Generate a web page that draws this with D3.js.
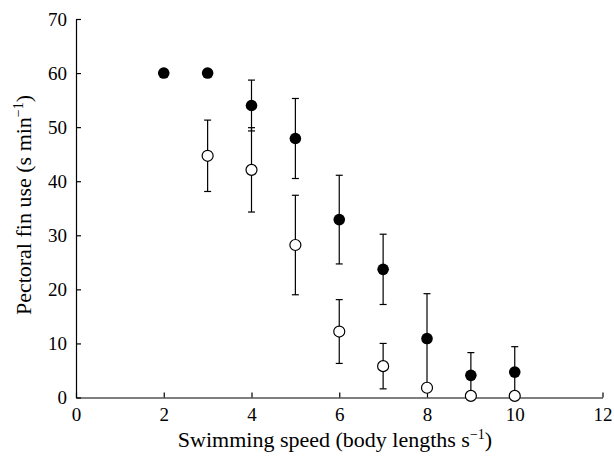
<!DOCTYPE html>
<html>
<head>
<meta charset="utf-8">
<script src="https://cdn.jsdelivr.net/npm/d3@7"></script>
<style>
  body { margin: 0; background: #fff; }
  svg text { font-family: "Liberation Serif", "DejaVu Serif", serif; fill: #000; }
</style>
</head>
<body>
<svg id="chart" width="614" height="457"></svg>
<script>
// Swimming speed (body lengths per second)
const speeds = [2, 3, 4, 5, 6, 7, 8, 9, 10];

// Filled circles: mean and standard error (null = no bar)
const filledMean = [60, 60, 54.0, 47.9, 32.9, 23.7, 10.9, 4.1, 4.7];
const filledErr = [null, null, 4.7, 7.4, 8.2, 6.5, 8.3, 4.2, 4.7];

// Open circles (no value at 2)
const openMean = [null, 44.7, 42.1, 28.2, 12.2, 5.8, 1.8, 0.3, 0.3];
const openErr = [null, 6.6, 7.8, 9.2, 5.9, 4.2, 0.0, 0, 0];

const xTicks = [0, 2, 4, 6, 8, 10, 12];
const yTicks = [0, 10, 20, 30, 40, 50, 60, 70];

const svg = d3.select('#chart');

const plotLeft = 76, plotRight = 602.5, plotTop = 19, plotBottom = 397.5;
const serif = '"Liberation Serif", "DejaVu Serif", serif';

const x = d3.scaleLinear().domain([0, 12]).range([plotLeft, plotRight]);
const y = d3.scaleLinear().domain([0, 70]).range([plotBottom, plotTop]);

// Axes, ticks pointing inward
const xAxis = d3.axisBottom(x).tickValues(xTicks).tickSizeInner(-5).tickSizeOuter(0).tickPadding(10);
const yAxis = d3.axisLeft(y).tickValues(yTicks).tickSizeInner(-5).tickSizeOuter(0).tickPadding(9);

const gx = svg.append('g').attr('transform', `translate(0,${plotBottom})`).call(xAxis);
const gy = svg.append('g').attr('transform', `translate(${plotLeft},0)`).call(yAxis);

[gx, gy].forEach(g => {
    g.attr('font-family', null).attr('font-size', null);
    g.select('.domain').attr('stroke', '#000').attr('stroke-width', 1.2);
    g.selectAll('.tick line').attr('stroke', '#000').attr('stroke-width', 1.2);
    g.selectAll('.tick text')
        .style('font-family', serif)
        .style('font-size', '19px')
        .attr('fill', '#000');
});

// Axis titles
const xTitle = svg.append('text')
    .attr('x', 335)
    .attr('y', 447)
    .attr('text-anchor', 'middle')
    .style('font-family', serif)
    .style('font-size', '22px');
xTitle.append('tspan').text('Swimming speed (body lengths s');
xTitle.append('tspan').style('font-size', '14px').attr('dy', -8).text('\u22121');
xTitle.append('tspan').attr('dy', 8).text(')');

const yTitle = svg.append('text')
    .attr('transform', `translate(31,205) rotate(-90)`)
    .attr('text-anchor', 'middle')
    .style('font-family', serif)
    .style('font-size', '22px');
yTitle.append('tspan').text('Pectoral fin use (s min');
yTitle.append('tspan').style('font-size', '14px').attr('dy', -8).text('\u22121');
yTitle.append('tspan').attr('dy', 8).text(')');

// Build point tables
const filled = speeds.map((s, i) => ({ s, m: filledMean[i], e: filledErr[i] }));
const open = speeds.map((s, i) => ({ s, m: openMean[i], e: openErr[i] }))
    .filter(d => d.m !== null);

const capHalf = 3.5;

function drawErrors(data) {
    const g = svg.append('g').attr('stroke', '#000').attr('stroke-width', 1.2);
    const withErr = data.filter(d => d.e);
    g.selectAll('line.v').data(withErr).join('line')
        .attr('class', 'v')
        .attr('x1', d => x(d.s)).attr('x2', d => x(d.s))
        .attr('y1', d => y(d.m + d.e)).attr('y2', d => y(Math.max(d.m - d.e, 0)));
    g.selectAll('line.top').data(withErr).join('line')
        .attr('class', 'top')
        .attr('x1', d => x(d.s) - capHalf).attr('x2', d => x(d.s) + capHalf)
        .attr('y1', d => y(d.m + d.e)).attr('y2', d => y(d.m + d.e));
    g.selectAll('line.bot').data(withErr.filter(d => d.m - d.e > 0.5)).join('line')
        .attr('class', 'bot')
        .attr('x1', d => x(d.s) - capHalf).attr('x2', d => x(d.s) + capHalf)
        .attr('y1', d => y(d.m - d.e)).attr('y2', d => y(d.m - d.e));
}

drawErrors(filled);
drawErrors(open);

svg.append('g').selectAll('circle').data(filled).join('circle')
    .attr('cx', d => x(d.s)).attr('cy', d => y(d.m)).attr('r', 5.8)
    .attr('fill', '#000');

svg.append('g').selectAll('circle').data(open).join('circle')
    .attr('cx', d => x(d.s)).attr('cy', d => y(d.m)).attr('r', 5.5)
    .attr('fill', '#fff').attr('stroke', '#000').attr('stroke-width', 1.2);
</script>
</body>
</html>
